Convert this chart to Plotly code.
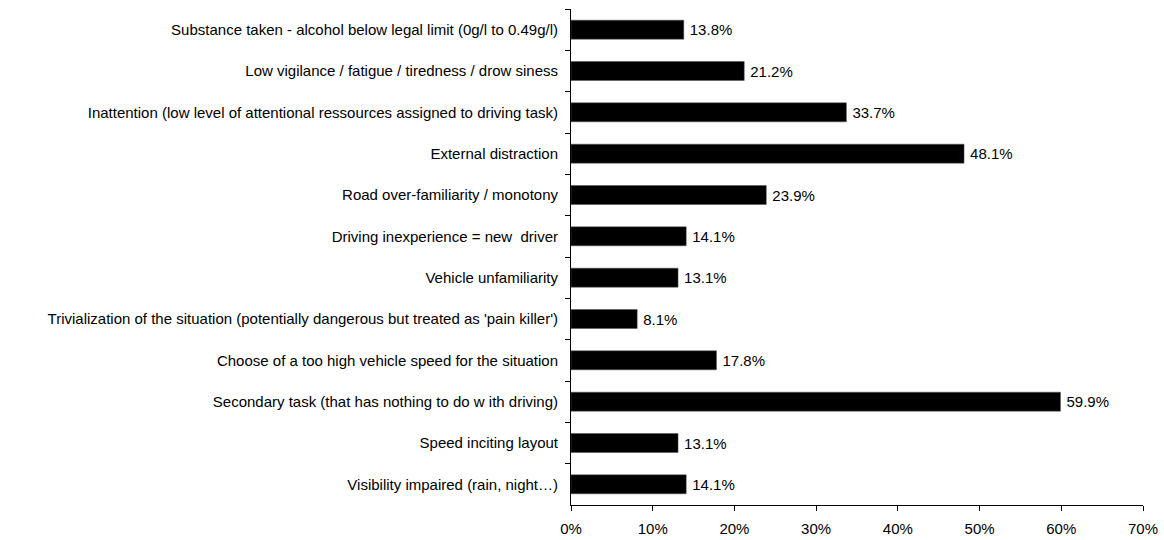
import plotly.graph_objects as go

categories = [
    "Substance taken - alcohol below legal limit (0g/l to 0.49g/l)",
    "Low vigilance / fatigue / tiredness / drow siness",
    "Inattention (low level of attentional ressources assigned to driving task)",
    "External distraction",
    "Road over-familiarity / monotony",
    "Driving inexperience = new  driver",
    "Vehicle unfamiliarity",
    "Trivialization of the situation (potentially dangerous but treated as 'pain killer')",
    "Choose of a too high vehicle speed for the situation",
    "Secondary task (that has nothing to do w ith driving)",
    "Speed inciting layout",
    "Visibility impaired (rain, night\u2026)",
]
values = [13.8, 21.2, 33.7, 48.1, 23.9, 14.1, 13.1, 8.1, 17.8, 59.9, 13.1, 14.1]
x_ticks = [0, 10, 20, 30, 40, 50, 60, 70]

font = "Liberation Sans, Arial, sans-serif"
fs = 15

fig = go.Figure(
    go.Bar(
        x=values,
        y=categories,
        orientation="h",
        marker=dict(color="black", line=dict(color="#555", width=0.5)),
        text=[f"\u2009{v:.1f}%" for v in values],
        textposition="outside",
        textfont=dict(family=font, size=fs, color="black"),
        cliponaxis=False,
        hoverinfo="skip",
    )
)

fig.update_layout(
    width=1164,
    height=540,
    margin=dict(l=571, r=21, t=9, b=35, pad=0),
    paper_bgcolor="white",
    plot_bgcolor="white",
    bargap=0.54,
    showlegend=False,
    font=dict(family=font, size=fs, color="black"),
)
fig.update_xaxes(
    range=[0, 70],
    tickvals=x_ticks,
    ticktext=[f"{t}%" for t in x_ticks],
    showgrid=False,
    zeroline=False,
    showline=True,
    linecolor="black",
    linewidth=1,
    ticks="outside",
    ticklen=5,
    tickcolor="black",
    ticklabelstandoff=5,
    tickfont=dict(family=font, size=fs, color="black"),
    automargin=False,
)
fig.update_yaxes(
    autorange="reversed",
    showgrid=False,
    showline=True,
    linecolor="black",
    linewidth=1,
    ticks="outside",
    ticklen=5,
    tickcolor="black",
    tickson="boundaries",
    ticklabelstandoff=9,
    tickfont=dict(family=font, size=fs, color="black"),
    automargin=False,
)

fig.write_html(
    "out.html",
    config={"displayModeBar": False},
    post_script="document.body.style.margin='0px';document.body.style.overflow='hidden';",
)
